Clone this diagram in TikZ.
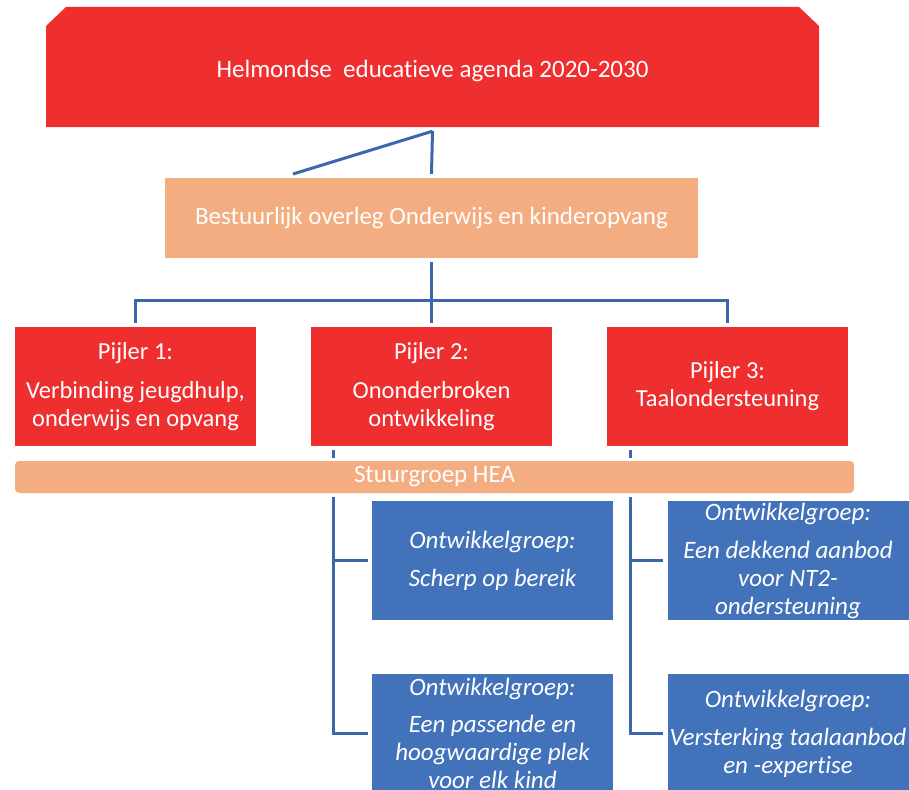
\documentclass[tikz,border=0pt]{standalone}
\usepackage{fontspec}
\setmainfont{Carlito}[Ligatures=NoCommon]
\definecolor{hred}{RGB}{238,46,47}
\definecolor{hpeach}{RGB}{244,173,128}
\definecolor{hblue}{RGB}{66,114,185}
\definecolor{hline}{RGB}{60,103,172}
\tikzset{
  box/.style={inner sep=0pt, text=white, align=center, anchor=center},
  redbox/.style={box, fill=hred},
  peachbox/.style={box, fill=hpeach},
  bluebox/.style={box, fill=hblue, font=\fontsize{25}{28}\selectfont\itshape},
  conn/.style={draw=hline, line width=3pt},
  txt/.style={font=\fontsize{25}{28}\selectfont},
  ptxt/.style={font=\fontsize{24.5}{28}\selectfont}
}
\begin{document}
\begin{tikzpicture}[x=1pt,y=-1pt]
\useasboundingbox (0,0) rectangle (909,789);
\begin{scope}
\clip (0,0) rectangle (909,789);
% top box with snipped top corners
\fill[hred] (46,26) -- (66,7) -- (799,7) -- (819,26) -- (819,127) -- (46,127) -- cycle;
\node[box, minimum width=773pt, minimum height=120pt] (top) at (432.5,67) {};
\node[box, txt] (toptext) at (432.5,71) {Helmondse\ \ educatieve agenda 2020-2030};

\node[peachbox, txt, minimum width=533pt, minimum height=80pt] (bo) at (431.5,218) {\raisebox{-2pt}{Bestuurlijk overleg Onderwijs en kinderopvang}};

\node[redbox, ptxt, minimum width=241pt, minimum height=119pt] (p1) at (135.5,386.5) {Pijler 1:\\[11pt]Verbinding jeugdhulp,\\onderwijs en opvang};
\node[redbox, ptxt, minimum width=241pt, minimum height=119pt] (p2) at (431.5,386.5) {Pijler 2:\\[11pt]Ononderbroken\\ontwikkeling};
\node[redbox, ptxt, minimum width=241pt, minimum height=119pt] (p3) at (727.5,386.5) {Pijler 3:\\Taalondersteuning};

\node[bluebox, minimum width=241pt, minimum height=119pt] (o1) at (492.5,560.5) {Ontwikkelgroep:\\[10pt]Scherp op bereik};
\node[bluebox, minimum width=241pt, minimum height=119pt] (o2) at (492.5,733.5) {Ontwikkelgroep:\\[9pt]Een passende en\\hoogwaardige plek\\voor elk kind};
\node[bluebox, minimum width=241pt, minimum height=119pt] (o3) at (788,560.5) {Ontwikkelgroep:\\[10pt]Een dekkend aanbod\\voor NT2-\\ondersteuning};
\node[bluebox, minimum width=241pt, minimum height=119pt] (o4) at (788,733.5) {Ontwikkelgroep:\\[10pt]Versterking taalaanbod\\en -expertise};

% connectors
\coordinate (tj) at ([yshift=-4pt]top.south);
\coordinate (diag) at (293,174);
\draw[conn] (tj) -- ([yshift=4pt]bo.north);
\draw[conn] (tj) -- (diag);

\coordinate (hub) at (431.5,300);
\draw[conn] ([yshift=-4pt]bo.south) -- (hub);
\draw[conn, line join=miter] ([yshift=4pt]p1.north) |- (hub) -| ([yshift=4pt]p3.north);
\draw[conn] (hub) -- ([yshift=4pt]p2.north);

\coordinate (l2) at (333,450);
\coordinate (l3) at (630,450);
\draw[conn, line join=miter] (l2) |- ([xshift=-4pt]o2.west);
\draw[conn] (333,560.5) -- ([xshift=-4pt]o1.west);
\draw[conn, line join=miter] (l3) |- ([xshift=-4pt]o4.west);
\draw[conn] (630,560.5) -- ([xshift=-4pt]o3.west);

% Stuurgroep bar over the lines
\fill[white] (15,458) rectangle (854,497);
\node[peachbox, txt, minimum width=839pt, minimum height=32pt, rounded corners=4pt] (sg) at (434.5,477) {};
\node[txt, text=white, anchor=center] (sgt) at (sg.center) {Stuurgroep HEA};
\end{scope}
\end{tikzpicture}
\end{document}
